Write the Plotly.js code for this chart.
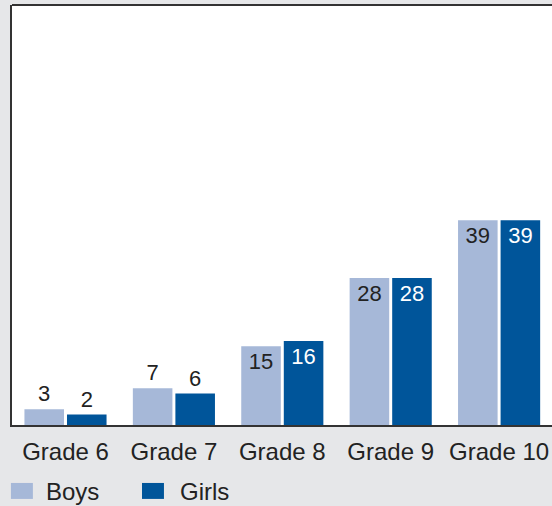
<!DOCTYPE html>
<html>
<head>
<meta charset="utf-8">
<script src="https://cdn.plot.ly/plotly-3.0.1.min.js"></script>
<style>html,body{margin:0;padding:0;background:#e6e7e9;}</style>
</head>
<body>
<div id="chart" style="width:552px;height:506px;"></div>
<script>
const categories = ['Grade 6', 'Grade 7', 'Grade 8', 'Grade 9', 'Grade 10'];
const boys = [3, 7, 15, 28, 39];
const girls = [2, 6, 16, 28, 39];
const seriesNames = ['Boys', 'Girls'];
const seriesColors = ['#a6b8d8', '#00559a'];
const insideTextColors = ['#222222', '#ffffff'];
const labelPositions = ['outside', 'outside', 'inside', 'inside', 'inside'];

const FONT = 'Liberation Sans, Arial, Helvetica, sans-serif';
const seriesValues = [boys, girls];

const traces = seriesValues.map((vals, i) => ({
  type: 'bar',
  name: seriesNames[i],
  x: categories,
  y: vals,
  text: vals.map(String),
  textposition: labelPositions,
  insidetextanchor: 'end',
  textangle: 0,
  constraintext: 'none',
  cliponaxis: false,
  textfont: {family: FONT, size: 22},
  insidetextfont: {family: FONT, size: 22, color: insideTextColors[i]},
  outsidetextfont: {family: FONT, size: 22, color: '#222222'},
  marker: {color: seriesColors[i], line: {width: 0}},
  hoverinfo: 'x+y+name',
  showlegend: false
}));

// custom legend (larger swatches like the reference)
const legendSwatchX = [-0.002, 0.2407];
const legendTextX = [0.059, 0.307];
const shapes = [
  {type: 'line', xref: 'paper', yref: 'paper', x0: 0, x1: 1, y0: 1, y1: 1,
   line: {color: '#333333', width: 2}}
];
const annotations = [];
seriesNames.forEach((n, i) => {
  shapes.push({type: 'rect', xref: 'paper', yref: 'paper',
    x0: legendSwatchX[i], x1: legendSwatchX[i] + 0.0407, y0: -0.176, y1: -0.138,
    fillcolor: seriesColors[i], line: {width: 0}});
  annotations.push({xref: 'paper', yref: 'paper', x: legendTextX[i], y: -0.158,
    xanchor: 'left', yanchor: 'middle', text: n, showarrow: false,
    font: {family: FONT, size: 24, color: '#222222'}});
});

const layout = {
  width: 552, height: 506,
  margin: {l: 12, r: 0, t: 5, b: 81, pad: 0},
  paper_bgcolor: '#e6e7e9',
  plot_bgcolor: '#ffffff',
  barmode: 'group',
  bargap: 0.215,
  bargroupgap: 0.07,
  showlegend: false,
  font: {family: FONT, color: '#222222'},
  xaxis: {
    type: 'category', range: [-0.4935, 4.488], fixedrange: true,
    showline: true, linecolor: '#333333', linewidth: 2,
    ticks: '', showgrid: false, zeroline: false,
    ticklabelstandoff: 4,
    tickfont: {family: FONT, size: 24, color: '#222222'}
  },
  yaxis: {
    range: [0, 80], fixedrange: true,
    showline: true, linecolor: '#333333', linewidth: 2,
    showticklabels: false, ticks: '', showgrid: false, zeroline: false
  },
  shapes: shapes,
  annotations: annotations
};

Plotly.newPlot('chart', traces, layout, {displayModeBar: false, staticPlot: true});
</script>
</body>
</html>
